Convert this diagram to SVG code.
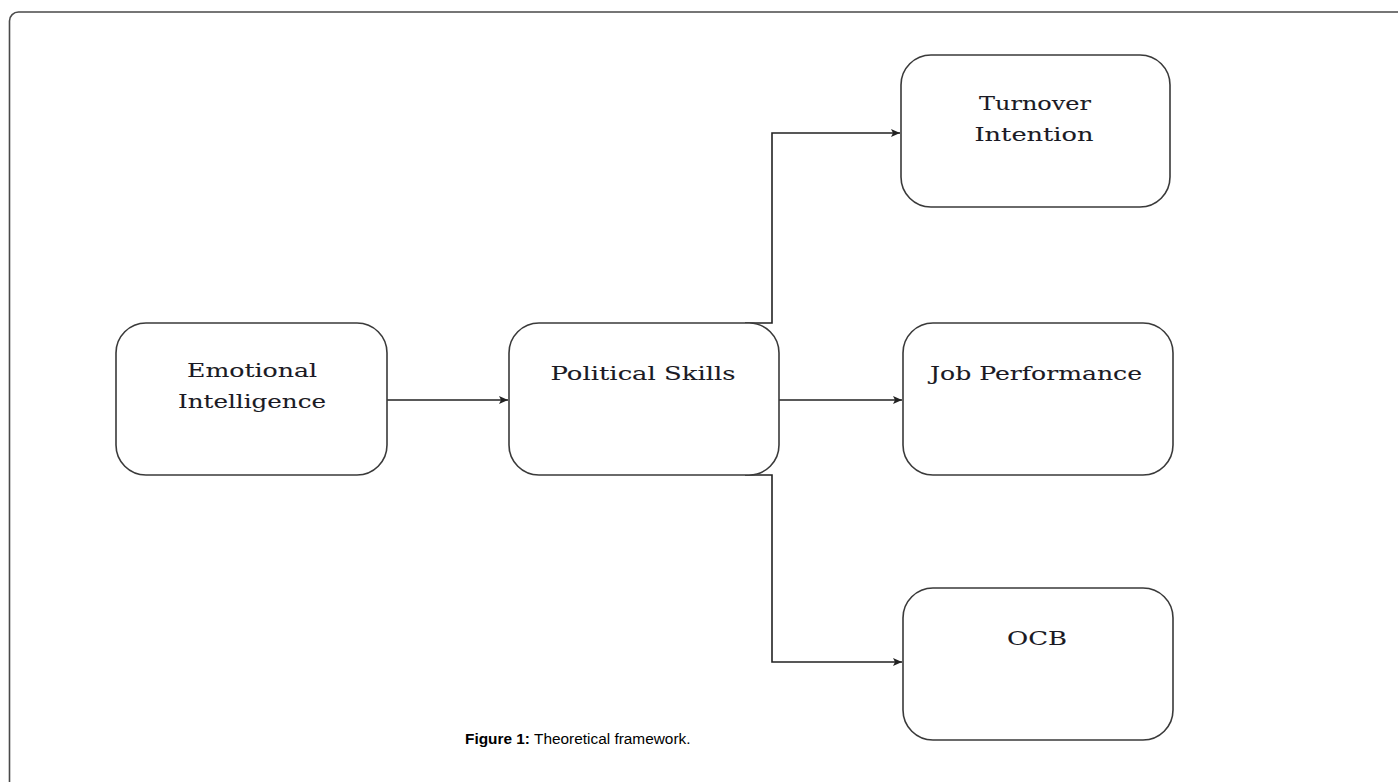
<svg xmlns="http://www.w3.org/2000/svg" width="1398" height="782" viewBox="0 0 1398 782">
<style>
.box{fill:#fff;stroke:#3a3a3a;stroke-width:1.6}
.lbl{font-family:"DejaVu Serif","Liberation Serif",serif;font-size:18px;fill:#1a1a24;text-anchor:middle;stroke:#1a1a24;stroke-width:0.1}
.conn{fill:none;stroke:#222;stroke-width:1.6}
.cap{font-family:"Liberation Sans",Arial,sans-serif;font-size:15.4px;fill:#000}
</style>
<defs>
<marker id="arr" viewBox="0 0 12 12" refX="11" refY="6" markerWidth="12" markerHeight="12" markerUnits="userSpaceOnUse" orient="auto">
<path d="M2 2 L11 6 L2 10 L4 6 Z" fill="#222"/>
</marker>
</defs>
<rect x="9.5" y="12" width="1400" height="800" rx="9" fill="none" stroke="#4a4a4a" stroke-width="1.6"/>
<g id="connectors">
<path class="conn" d="M387 400 H508" marker-end="url(#arr)"/>
<path class="conn" d="M779 400 H902" marker-end="url(#arr)"/>
<path class="conn" d="M745 323 H772 V133 H900" marker-end="url(#arr)"/>
<path class="conn" d="M745 475 H772 V662 H902" marker-end="url(#arr)"/>
</g>
<g id="emotional-intelligence">
<rect class="box" x="116" y="323" width="271" height="152" rx="30"/>
<text class="lbl" x="252" y="377" textLength="130" lengthAdjust="spacingAndGlyphs">Emotional</text>
<text class="lbl" x="252" y="408" textLength="148" lengthAdjust="spacingAndGlyphs">Intelligence</text>
</g>
<g id="political-skills">
<rect class="box" x="509" y="323" width="270" height="152" rx="30"/>
<text class="lbl" x="643" y="380" textLength="185" lengthAdjust="spacingAndGlyphs">Political Skills</text>
</g>
<g id="turnover-intention">
<rect class="box" x="901" y="55" width="269" height="152" rx="30"/>
<text class="lbl" x="1035" y="110" textLength="112" lengthAdjust="spacingAndGlyphs">Turnover</text>
<text class="lbl" x="1034" y="141" textLength="119" lengthAdjust="spacingAndGlyphs">Intention</text>
</g>
<g id="job-performance">
<rect class="box" x="903" y="323" width="270" height="152" rx="30"/>
<text class="lbl" x="1036" y="380" textLength="212" lengthAdjust="spacingAndGlyphs">Job Performance</text>
</g>
<g id="ocb">
<rect class="box" x="903" y="588" width="270" height="152" rx="30"/>
<text class="lbl" x="1037" y="645" textLength="60" lengthAdjust="spacingAndGlyphs">OCB</text>
</g>
<g id="caption">
<text class="cap" x="465" y="744"><tspan font-weight="bold">Figure 1:</tspan> Theoretical framework.</text>
</g>
</svg>
